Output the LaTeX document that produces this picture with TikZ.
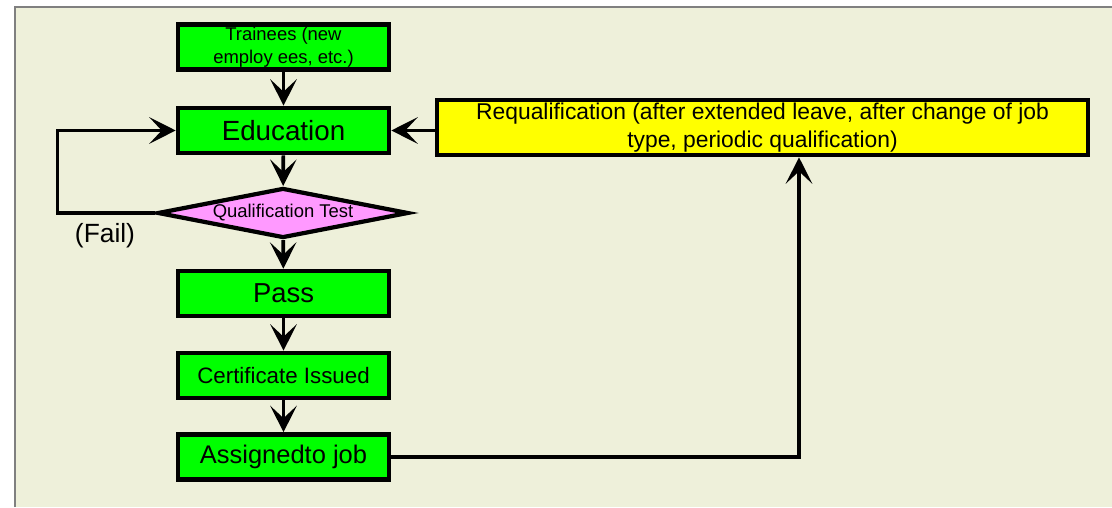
\documentclass[tikz,border=0pt]{standalone}
\usepackage{fontspec}
\setmainfont{Liberation Sans}
\usetikzlibrary{shapes.geometric,arrows.meta}
\definecolor{bgcol}{RGB}{238,240,218}
\definecolor{boxgreen}{RGB}{0,255,0}
\definecolor{testpink}{RGB}{255,153,255}
\definecolor{requalyellow}{RGB}{255,255,0}
\newcommand{\fsz}[1]{\fontsize{#1}{1.25\dimexpr#1pt\relax}\selectfont}

\begin{document}
\begin{tikzpicture}[x=0.02cm,y=0.02cm,>={Stealth[length=15pt,width=15pt,inset=7pt]},
	greenbox/.style={draw,line width=2.6pt,fill=boxgreen,minimum width=4.22cm,minimum height=0.9cm,inner sep=0pt,align=center},
	link/.style={->,line width=2.1pt}]
		\useasboundingbox (0,0) rectangle (1112,507);
		% background
		\fill[bgcol] (15,0) rectangle (1112,500);
		\draw[gray,line width=0.6pt] (15,0) |- (1112,500);

		\node[greenbox,font=\fontsize{10.5}{13}\selectfont] (train) at (283.5,460) {Trainees (new\\ employ ees, etc.)};
		\node[greenbox,font=\fsz{15.8}] (edu) at (283.5,376.5) {Education};
		\node[diamond,draw,line width=2.4pt,fill=testpink,aspect=5,inner sep=0pt,
			minimum width=5.02cm,minimum height=1cm,font=\fsz{10.5}] (test) at (283,294) {Qualification Test};
		\node[greenbox,font=\fsz{15.6}] (pass) at (283.5,213.5) {Pass};
		\node[greenbox,font=\fsz{12.7}] (cert) at (283.5,131.5) {Certificate Issued};
		\node[greenbox,font=\fsz{14.5}] (job) at (283.5,50) {Assignedto job};
		\node[draw,line width=2.6pt,fill=requalyellow,minimum width=13.02cm,minimum height=1.1cm,
			inner sep=0pt,align=center,font=\fontsize{13}{16}\selectfont] (requal) at (762.5,379.5)
			{Requalification (after extended leave, after change of job\\ type, periodic qualification)};
		\node[font=\fsz{15}] (fail) at (105,271) {(Fail)};

		\draw[link] (train) -- (edu);
		\draw[link] (edu) -- (test);
		\draw[link] (test) -- (pass);
		\draw[link] (pass) -- (cert);
		\draw[link] (cert) -- (job);
		\draw[link] (test.west) -- ++(-98,0) |- (edu.west);
		\draw[link] (requal.west |- edu.east) -- (edu.east);
		\coordinate (up) at (799,0);
		\draw[link] (job.east) -| (up |- requal.south);

	\end{tikzpicture}
\end{document}
